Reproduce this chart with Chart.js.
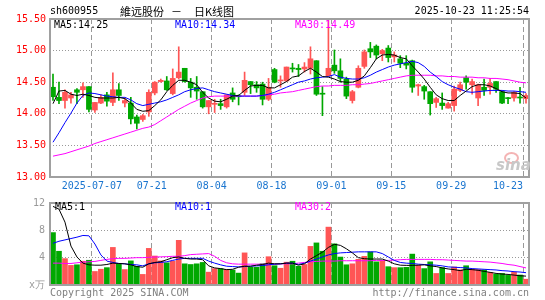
<!DOCTYPE html>
<html>
<head>
<meta charset="utf-8">
<script src="https://cdn.jsdelivr.net/npm/chart.js@4.4.0/dist/chart.umd.min.js"></script>
<style>
body { margin: 0; background: #fff; width: 545px; height: 300px; position: relative; overflow: hidden;
       font-family: "DejaVu Sans Mono", monospace; font-size: 10px; }
.t { position: absolute; white-space: pre; line-height: 12px; }
.cjk { font-family: "Noto Sans CJK SC", sans-serif; font-size: 11px; line-height: 14px; }
#main { position: absolute; left: 0; top: 0; }
#vol { position: absolute; left: 0; top: 192px; }
</style>
</head>
<body>
<canvas id="main" width="545" height="192" style="width:545px;height:192px"></canvas>
<canvas id="vol" width="545" height="108" style="width:545px;height:108px"></canvas>

<div class="t" style="left:50px;top:5px">sh600955</div>
<div class="t cjk" style="left:120px;top:4px">維远股份</div>
<div class="t cjk" style="left:171px;top:4px">－</div>
<div class="t cjk" style="left:194px;top:4px">日K线图</div>
<div class="t" style="right:16px;top:5px">2025-10-23 11:25:54</div>

<div class="t" style="left:54px;top:19px;color:#000">MA5:14.25</div>
<div class="t" style="left:175px;top:19px;color:#0000ff">MA10:14.34</div>
<div class="t" style="left:295px;top:19px;color:#ff00ff">MA30:14.49</div>

<div class="t" style="left:55px;top:201px;color:#000">MA5:1</div>
<div class="t" style="left:175px;top:201px;color:#0000ff">MA10:1</div>
<div class="t" style="left:295px;top:201px;color:#ff00ff">MA30:2</div>

<div style="position:absolute;left:504px;top:152px;width:11px;height:8px;border:2px solid #f4b4b4;border-radius:50%"></div>
<div class="t" style="left:496px;top:156px;font:italic bold 15px 'DejaVu Sans',sans-serif;color:#c8c8c8">sina</div>

<div class="t" style="left:50px;top:287px;color:#808080">Copyright 2025 SINA.COM</div>
<div class="t" style="right:16px;top:287px;color:#808080">http://finance.sina.com.cn</div>

<script>
// 交易日
const dates = [
  '2025-06-26','2025-06-27','2025-06-30','2025-07-01','2025-07-02','2025-07-03','2025-07-04','2025-07-07','2025-07-08','2025-07-09',
  '2025-07-10','2025-07-11','2025-07-14','2025-07-15','2025-07-16','2025-07-17','2025-07-18','2025-07-21','2025-07-22','2025-07-23',
  '2025-07-24','2025-07-25','2025-07-28','2025-07-29','2025-07-30','2025-07-31','2025-08-01','2025-08-04','2025-08-05','2025-08-06',
  '2025-08-07','2025-08-08','2025-08-11','2025-08-12','2025-08-13','2025-08-14','2025-08-15','2025-08-18','2025-08-19','2025-08-20',
  '2025-08-21','2025-08-22','2025-08-25','2025-08-26','2025-08-27','2025-08-28','2025-08-29','2025-09-01','2025-09-02','2025-09-03',
  '2025-09-04','2025-09-05','2025-09-08','2025-09-09','2025-09-10','2025-09-11','2025-09-12','2025-09-15','2025-09-16','2025-09-17',
  '2025-09-18','2025-09-19','2025-09-22','2025-09-23','2025-09-24','2025-09-25','2025-09-26','2025-09-29','2025-09-30','2025-10-09',
  '2025-10-10','2025-10-13','2025-10-14','2025-10-15','2025-10-16','2025-10-17','2025-10-20','2025-10-21','2025-10-22','2025-10-23'
];

const openP = [
  14.42,14.26,14.21,14.25,14.38,14.38,14.43,14.06,14.17,14.30,
  14.18,14.38,14.17,14.17,13.95,13.91,14.03,14.33,14.51,14.52,
  14.32,14.57,14.72,14.50,14.42,14.35,14.11,14.15,14.16,14.11,
  14.33,14.28,14.34,14.51,14.46,14.47,14.23,14.70,14.52,14.52,
  14.72,14.72,14.71,14.72,14.84,14.32,14.60,14.77,14.68,14.55,
  14.21,14.42,14.75,15.03,15.07,14.95,15.04,14.90,14.87,14.80,
  14.84,14.44,14.43,14.35,14.18,14.17,14.09,14.13,14.37,14.57,
  14.46,14.25,14.42,14.42,14.51,14.35,14.25,14.25,14.26,14.24
];
const highP = [
  14.63,14.50,14.38,14.34,14.40,14.49,14.43,14.18,14.30,14.34,
  14.65,14.48,14.25,14.26,13.98,13.99,14.38,14.51,14.55,14.59,
  14.71,15.06,14.72,14.56,14.59,14.35,14.21,14.23,14.23,14.30,
  14.41,14.30,14.66,14.51,14.51,14.50,14.56,14.72,14.60,14.74,
  14.80,14.78,14.81,15.06,14.84,14.43,15.50,15.01,14.87,14.58,
  14.37,14.76,15.01,15.13,15.09,15.02,15.08,14.98,14.92,14.92,
  14.85,14.47,14.45,14.35,14.26,14.33,14.18,14.44,14.50,14.60,
  14.55,14.47,14.55,14.56,14.51,14.35,14.26,14.35,14.42,14.32
];
const lowP = [
  14.21,14.16,14.09,14.17,14.16,14.26,14.03,14.02,14.16,14.12,
  14.13,14.21,14.11,13.84,13.76,13.88,13.96,14.30,14.50,14.37,
  14.30,14.55,14.50,14.26,14.23,14.09,14.00,14.02,14.07,14.09,
  14.19,14.14,14.29,14.32,14.34,14.14,14.21,14.49,14.42,14.51,
  14.66,14.59,14.66,14.63,14.29,13.97,14.60,14.64,14.50,14.24,
  14.17,14.41,14.72,14.89,14.87,14.84,14.82,14.82,14.73,14.71,
  14.34,14.29,14.23,13.98,14.10,14.07,14.09,14.04,14.35,14.39,
  14.31,14.13,14.29,14.31,14.34,14.16,14.16,14.20,14.17,14.17
];
const closeP = [
  14.27,14.21,14.34,14.30,14.34,14.43,14.07,14.18,14.26,14.20,
  14.38,14.29,14.21,13.92,13.85,13.97,14.34,14.50,14.53,14.38,
  14.56,14.66,14.51,14.41,14.36,14.11,14.21,14.16,14.13,14.30,
  14.23,14.27,14.53,14.46,14.41,14.23,14.42,14.50,14.53,14.74,
  14.71,14.70,14.74,14.87,14.31,14.31,14.72,14.68,14.56,14.28,
  14.35,14.72,14.98,14.98,14.93,15.00,14.89,14.93,14.80,14.77,
  14.42,14.46,14.36,14.16,14.24,14.13,14.16,14.39,14.46,14.50,
  14.51,14.46,14.37,14.48,14.39,14.17,14.24,14.34,14.25,14.29
];

const ma5 = [
  14.16,14.36,14.37,14.31,14.29,14.31,14.29,14.26,14.25,14.25,
  14.25,14.26,14.24,14.17,14.07,14.04,14.05,14.13,14.22,14.35,
  14.45,14.53,14.53,14.50,14.46,14.34,14.25,14.20,14.19,14.23,
  14.28,14.29,14.37,14.44,14.45,14.45,14.41,14.41,14.46,14.51,
  14.58,14.60,14.67,14.72,14.66,14.59,14.58,14.55,14.51,14.50,
  14.50,14.53,14.60,14.73,14.87,14.93,14.94,14.93,14.89,14.87,
  14.76,14.66,14.55,14.42,14.30,14.24,14.21,14.21,14.29,14.36,
  14.43,14.46,14.46,14.44,14.40,14.35,14.33,14.33,14.32,14.25
];
const ma10 = [
  13.55,13.70,13.86,14.01,14.17,14.29,14.33,14.32,14.30,14.28,
  14.27,14.26,14.26,14.22,14.16,14.13,14.15,14.17,14.19,14.22,
  14.26,14.30,14.35,14.38,14.40,14.41,14.38,14.35,14.33,14.31,
  14.29,14.28,14.28,14.28,14.28,14.29,14.31,14.34,14.38,14.42,
  14.46,14.50,14.52,14.55,14.57,14.58,14.59,14.62,14.58,14.56,
  14.55,14.55,14.57,14.61,14.66,14.70,14.74,14.77,14.79,14.81,
  14.83,14.81,14.75,14.66,14.59,14.51,14.46,14.42,14.39,14.35,
  14.34,14.35,14.36,14.37,14.37,14.37,14.36,14.36,14.35,14.34
];
const ma30 = [
  13.33,13.35,13.37,13.40,13.43,13.46,13.49,13.53,13.56,13.59,
  13.62,13.65,13.68,13.71,13.74,13.77,13.79,13.83,13.89,13.95,
  14.01,14.07,14.12,14.17,14.21,14.25,14.27,14.28,14.28,14.28,
  14.28,14.28,14.28,14.28,14.28,14.29,14.30,14.31,14.33,14.34,
  14.35,14.37,14.39,14.41,14.43,14.44,14.44,14.45,14.45,14.45,
  14.46,14.46,14.47,14.48,14.50,14.52,14.54,14.56,14.58,14.60,
  14.61,14.61,14.61,14.61,14.60,14.60,14.59,14.59,14.58,14.58,
  14.58,14.57,14.57,14.56,14.56,14.55,14.54,14.52,14.50,14.49
];

// 成交量（万手）
const volume = [
  7.67,4.94,3.86,2.87,2.96,3.48,3.62,1.98,2.31,2.54,
  5.50,3.10,2.26,3.53,2.73,1.55,5.36,4.24,3.53,3.25,
  3.48,6.54,3.10,3.00,3.10,3.30,1.88,2.40,2.40,2.30,
  2.20,1.74,4.70,2.60,2.60,3.10,4.14,2.82,2.45,3.34,
  3.48,2.73,3.00,5.65,6.16,4.94,8.47,6.02,4.09,2.96,
  3.10,3.76,4.19,4.85,3.39,3.58,2.68,2.54,2.54,2.59,
  4.52,2.87,2.40,3.39,1.69,2.54,1.69,2.64,2.21,2.82,
  2.30,2.26,2.20,1.84,1.60,1.69,1.41,1.88,1.46,0.85
];
const volMa5 = [
  11.5,11.1,9.2,5.7,4.1,3.2,2.95,2.9,2.9,3.0,
  3.2,3.15,3.1,2.95,2.7,2.6,3.1,3.3,3.4,3.7,
  4.0,4.1,3.9,3.8,3.8,3.7,2.8,2.5,2.4,2.25,
  2.3,2.6,2.75,2.75,2.9,3.0,3.2,3.1,3.1,3.2,
  3.2,2.9,3.1,3.8,4.3,4.8,5.5,5.95,5.8,5.3,
  4.7,4.0,3.85,3.8,3.8,3.8,3.5,3.1,2.9,2.87,
  2.87,2.9,2.95,2.8,2.7,2.5,2.35,2.25,2.1,2.3,
  2.25,2.15,2.0,1.85,1.7,1.6,1.55,1.45,1.35,1.3
];
const volMa10 = [
  6.1,6.4,6.6,6.8,7.0,7.25,7.2,6.0,4.4,3.5,
  3.3,3.15,3.1,3.0,2.95,2.8,3.1,3.25,3.3,3.4,
  3.6,3.8,3.9,3.9,3.9,3.9,3.5,3.2,2.95,2.75,
  2.7,2.65,2.7,2.75,2.8,2.85,2.95,3.05,3.1,3.2,
  3.2,3.0,3.2,3.5,3.8,4.1,4.4,4.6,4.7,4.75,
  4.8,4.85,4.85,4.85,4.85,4.6,4.1,3.6,3.3,3.2,
  3.15,3.05,3.0,2.95,2.9,2.8,2.65,2.6,2.55,2.5,
  2.4,2.35,2.3,2.25,2.2,2.1,2.05,1.95,1.9,1.8
];
const volMa30 = [
  3.2,3.2,3.15,3.15,3.25,3.35,3.4,3.45,3.6,3.75,
  3.85,3.9,3.9,3.95,4.0,4.0,4.05,4.1,4.12,4.15,
  4.2,4.2,4.3,4.45,4.5,4.55,4.6,4.2,3.6,3.25,
  3.1,3.05,3.05,3.05,3.05,3.05,3.05,3.05,3.1,3.1,
  3.1,3.2,3.3,3.4,3.45,3.5,3.5,3.5,3.55,3.55,
  3.55,3.55,3.55,3.55,3.6,3.6,3.6,3.65,3.7,3.75,
  3.75,3.75,3.75,3.75,3.7,3.7,3.65,3.6,3.55,3.5,
  3.5,3.45,3.4,3.35,3.25,3.15,3.0,2.9,2.7,2.5
];

const priceTicks = [13, 13.5, 14, 14.5, 15, 15.5];
const volTicks = [0, 4, 8, 12];
const xTickDates = ['2025-07-07','2025-07-21','2025-08-04','2025-08-18','2025-09-01','2025-09-15','2025-09-29','2025-10-23'];

const RED = '#ff5555';
const GREEN = '#00a800';
const MONO = "'DejaVu Sans Mono', monospace";

const candleColors = dates.map((d, i) => closeP[i] >= openP[i] ? RED : GREEN);
const gridIdx = new Set(xTickDates.map(d => dates.indexOf(d)));

// 外框
const framePlugin = {
    id: 'frame',
    afterDatasetsDraw(chart) {
        const a = chart.chartArea;
        const ctx = chart.ctx;
        ctx.save();
        ctx.strokeStyle = '#a0a0a0';
        ctx.lineWidth = 2;
        ctx.strokeRect(a.left, a.top, a.right - a.left, a.bottom - a.top);
        ctx.restore();
    }
};

// 日期標籤，畫在格線上
const xLabelPlugin = {
    id: 'xlabels',
    afterDraw(chart) {
        const xs = chart.scales.x;
        const ctx = chart.ctx;
        const half = (xs.right - xs.left) / dates.length / 2;
        ctx.save();
        ctx.font = '10px ' + MONO;
        ctx.fillStyle = '#1a75cf';
        ctx.textBaseline = 'middle';
        xTickDates.forEach((d, k) => {
            const x = xs.getPixelForValue(dates.indexOf(d)) - half;
            ctx.textAlign = k === xTickDates.length - 1 ? 'right' : 'center';
            ctx.fillText(k === 0 ? d : d.slice(5), x, 186);
        });
        ctx.restore();
    }
};

function makeX() {
    return {
        type: 'category',
        offset: true,
        ticks: { display: false, autoSkip: false },
        grid: {
            offset: true,
            drawTicks: false,
            lineWidth: 1,
            color: c => gridIdx.has(c.index) ? '#999999' : 'rgba(0,0,0,0)'
        },
        border: { display: false, dash: [5, 3] },
        afterFit: s => { s.height = 15; }
    };
}

function maLine(data, color) {
    return { type: 'line', data: data, borderColor: color, borderWidth: 1, pointRadius: 0, tension: 0, order: 0 };
}

new Chart(document.getElementById('main').getContext('2d'), {
    type: 'bar',
    data: {
        labels: dates,
        datasets: [
            maLine(ma5, '#000000'),
            maLine(ma10, '#0000ff'),
            maLine(ma30, '#ff00ff'),
            {
                data: dates.map((d, i) => [openP[i], closeP[i]]),
                backgroundColor: candleColors,
                barThickness: 5,
                minBarLength: 1,
                grouped: false,
                order: 1
            },
            {
                data: dates.map((d, i) => [lowP[i], highP[i]]),
                backgroundColor: candleColors,
                barThickness: 1,
                grouped: false,
                order: 2
            }
        ]
    },
    options: {
        responsive: false,
        animation: false,
        layout: { padding: { top: 19, right: 16, left: 0, bottom: 0 } },
        plugins: { legend: { display: false }, tooltip: { enabled: false } },
        scales: {
            x: makeX(),
            y: {
                min: 13,
                max: 15.5,
                afterBuildTicks: s => { s.ticks = priceTicks.map(v => ({ value: v })); },
                ticks: { color: '#ff0000', padding: 4, font: { family: MONO, size: 10 }, callback: v => Number(v).toFixed(2) },
                grid: { color: '#999999', drawTicks: false },
                border: { display: false, dash: [1, 2] },
                afterFit: s => { s.width = 50; }
            }
        }
    },
    plugins: [framePlugin, xLabelPlugin]
});

new Chart(document.getElementById('vol').getContext('2d'), {
    type: 'bar',
    data: {
        labels: dates,
        datasets: [
            maLine(volMa5, '#000000'),
            maLine(volMa10, '#0000ff'),
            maLine(volMa30, '#ff00ff'),
            {
                data: volume,
                backgroundColor: candleColors,
                barThickness: 5,
                grouped: false,
                order: 1
            }
        ]
    },
    options: {
        responsive: false,
        animation: false,
        layout: { padding: { top: 9, right: 16, left: 0, bottom: 0 } },
        plugins: { legend: { display: false }, tooltip: { enabled: false } },
        scales: {
            x: makeX(),
            y: {
                min: 0,
                max: 12,
                afterBuildTicks: s => { s.ticks = volTicks.map(v => ({ value: v })); },
                ticks: { color: '#999999', padding: 5, font: { family: MONO, size: 10 }, callback: v => v === 0 ? 'x万' : String(v) },
                grid: { color: '#999999', drawTicks: false },
                border: { display: false, dash: [1, 2] },
                afterFit: s => { s.width = 50; }
            }
        }
    },
    plugins: [framePlugin]
});
</script>
</body>
</html>
